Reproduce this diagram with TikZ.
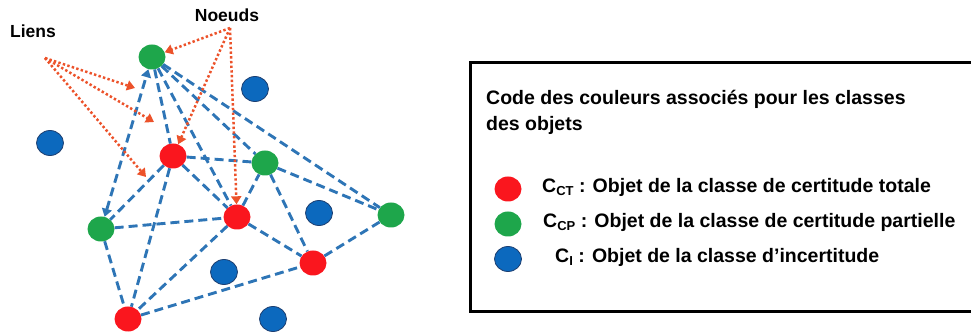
\documentclass[tikz,border=0pt]{standalone}
\usepackage{fontspec}
\setmainfont{Liberation Sans}
\usepackage{tikz}
\usetikzlibrary{arrows.meta,shapes.geometric}

\definecolor{lienbleu}{RGB}{46,117,182}
\definecolor{flecherouge}{RGB}{236,82,42}
\definecolor{objrouge}{RGB}{250,22,30}
\definecolor{objvert}{RGB}{30,166,75}
\definecolor{objbleu}{RGB}{12,105,190}
\definecolor{bordbleu}{RGB}{28,62,112}

\begin{document}
\begin{tikzpicture}[x=1pt, y=-1pt,
    obj/.style={ellipse, minimum width=27pt, minimum height=25pt, inner sep=0pt},
    ct/.style={obj, fill=objrouge},
    cp/.style={obj, fill=objvert},
    ci/.style={obj, fill=objbleu, draw=bordbleu, line width=0.8pt},
    lien/.style={lienbleu, line width=2.9pt, dash pattern=on 9pt off 5pt},
    fleche/.style={flecherouge, line width=2.5pt, dash pattern=on 2.4pt off 2.3pt,
        -{Triangle[width=10pt,length=8pt]}},
    etiq/.style={font=\bfseries\fontsize{17.5}{20}\selectfont},
    legende/.style={anchor=base west, inner sep=0pt, font=\bfseries\fontsize{19.5}{26}\selectfont}]
    \useasboundingbox (0,0) rectangle (971,336);

    % Objets du graphe
    \node[cp] (g1) at (152,57) {};
    \node[ci] (b1) at (255,89) {};
    \node[ci] (b2) at (50,143) {};
    \node[ct] (r1) at (173,156) {};
    \node[cp] (g2) at (265,163) {};
    \node[ct] (r2) at (237,217) {};
    \node[ci] (b3) at (319,213) {};
    \node[cp] (g3) at (391,215) {};
    \node[cp] (g4) at (101,229) {};
    \node[ct] (r3) at (313,263) {};
    \node[ci] (b4) at (224,272) {};
    \node[ct] (r4) at (128,319) {};
    \node[ci] (b5) at (273,319) {};

    % Liens
    \draw[lien, {Triangle[width=10pt,length=8pt]}-{Triangle[width=10pt,length=8pt]}] (g4) -- (g1);
    \foreach \a/\b in {g1/r1, g1/r2, g1/g2, g1/g3, r1/g2, r1/r2, r1/g4, r1/r4, g4/r2,
        g4/r4, r2/g2, r2/r3, r2/r4, g2/r3, g2/g3, r3/g3, r4/r3}
        \draw[lien] (\a) -- (\b);

    % Etiquettes
    \node[etiq] (liens) at (33,31) {Liens};
    \node[etiq] (noeuds) at (227,15) {Noeuds};
    \coordinate (lsrc) at (45,58);
    \coordinate (nsrc) at (230,28);
    \coordinate (l1) at (135,88);
    \coordinate (l2) at (154,122);
    \coordinate (l3) at (146,177);
    \draw[fleche] (lsrc) -- (l1);
    \draw[fleche] (lsrc) -- (l2);
    \draw[fleche] (lsrc) -- (l3);
    \draw[fleche] (nsrc) -- (g1);
    \draw[fleche] (nsrc) -- (r1);
    \draw[fleche] (nsrc) -- (r2);

    % Legende
    \draw[line width=3pt] (470,63) rectangle (990,312);
    \node[anchor=north west, align=left, inner sep=0pt,
        font=\bfseries\fontsize{19.5}{26}\selectfont] (titre) at (486,90)
        {Code des couleurs associés pour les classes\\des objets};
    \node[ct] (lct) at (508,189) {};
    \node[cp] (lcp) at (508,224) {};
    \node[ci] (lci) at (508,259) {};
    \node[legende] (tct) at (542,193)
        {C{\fontsize{13}{14}\selectfont\raisebox{-2.5pt}{CT}} : Objet de la classe de certitude totale};
    \node[legende] (tcp) at (543,228)
        {C{\fontsize{13}{14}\selectfont\raisebox{-2.5pt}{CP}} : Objet de la classe de certitude partielle};
    \node[legende] (tci) at (555,263)
        {C{\fontsize{13}{14}\selectfont\raisebox{-2.5pt}{I}} : Objet de la classe d’incertitude};
\end{tikzpicture}
\end{document}
